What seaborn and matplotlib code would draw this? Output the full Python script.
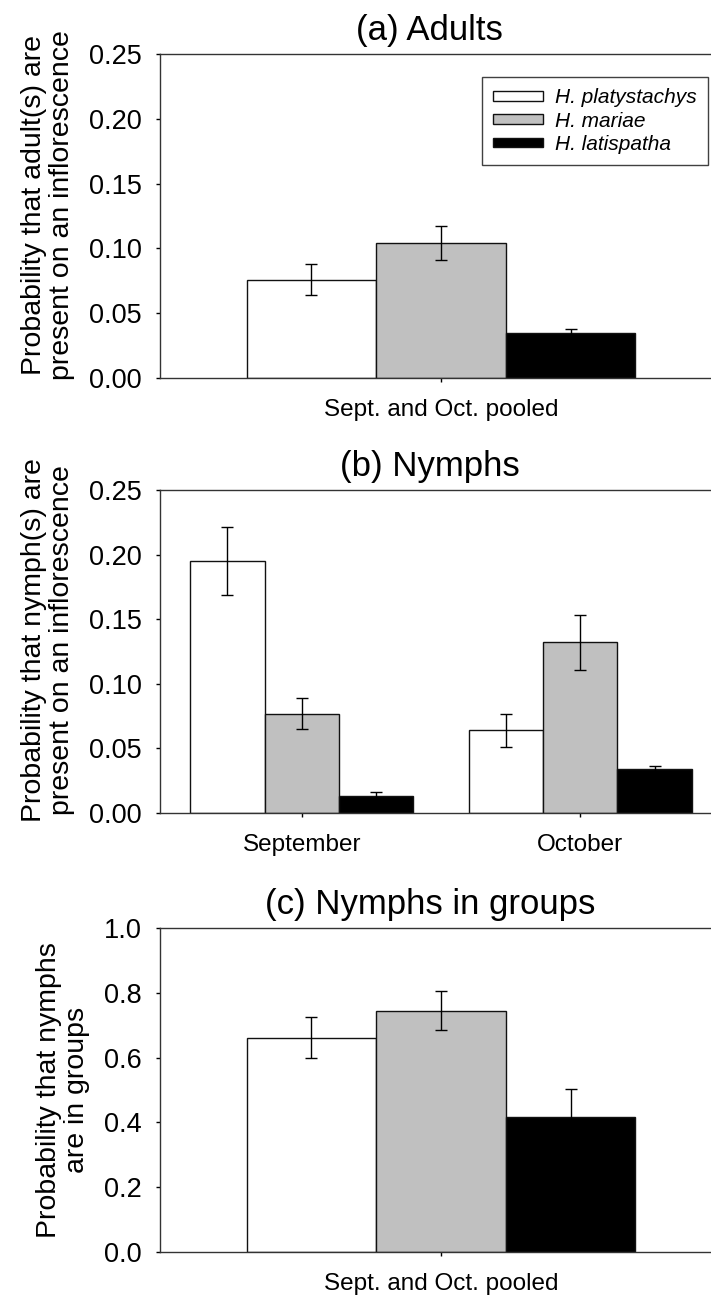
import pandas as pd
import seaborn as sns
import matplotlib.pyplot as plt
from matplotlib.ticker import FormatStrFormatter

species = ['H. platystachys', 'H. mariae', 'H. latispatha']
bar_colors = ['#ffffff', '#c0c0c0', '#000000']

pooled = ['Sept. and Oct. pooled']
months = ['September', 'October']

# (a) adults, Sept. and Oct. pooled (one value per species)
adult_mean = [[0.076], [0.104], [0.035]]
adult_se = [[0.012], [0.013], [0.0025]]

# (b) nymphs by month, one list per species: [September, October]
nymph_mean = [[0.195, 0.064], [0.077, 0.132], [0.013, 0.034]]
nymph_se = [[0.026, 0.013], [0.012, 0.021], [0.003, 0.002]]

# (c) nymphs in groups, pooled
group_mean = [[0.662], [0.745], [0.417]]
group_se = [[0.064], [0.061], [0.087]]

sns.set_style('ticks')
plt.rcParams['font.family'] = ['Liberation Sans', 'DejaVu Sans']
plt.rcParams['axes.edgecolor'] = '#333333'
plt.rcParams['axes.linewidth'] = 1.0
plt.rcParams['text.color'] = 'black'
plt.rcParams['axes.labelcolor'] = 'black'
plt.rcParams['xtick.color'] = 'black'
plt.rcParams['ytick.color'] = 'black'


def long_df(periods, means):
    rows = []
    for sp, vals in zip(species, means):
        for per, v in zip(periods, vals):
            rows.append({'species': sp, 'period': per, 'value': v})
    return pd.DataFrame(rows)


def draw_panel(ax, periods, means, ses, title, ylabel, yticks, fmt, half):
    df = long_df(periods, means)
    sns.barplot(data=df, x='period', y='value', hue='species', order=periods,
                hue_order=species, palette=bar_colors, saturation=1, width=0.8,
                edgecolor='#111111', linewidth=1, errorbar=None, legend=False, ax=ax)
    bars = list(ax.containers)
    for cont, m, s in zip(bars, means, ses):
        xs = [p.get_x() + p.get_width() / 2 for p in cont]
        ax.errorbar(xs, m, yerr=s, fmt='none', ecolor='#000000',
                    elinewidth=1, capsize=4, capthick=1)

    ax.set_xlim(-half, half + len(periods) - 1)
    ax.set_ylim(yticks[0], yticks[-1])
    ax.set_yticks(yticks)
    ax.yaxis.set_major_formatter(FormatStrFormatter(fmt))
    ax.set_xlabel('')
    ax.set_ylabel(ylabel, fontsize=20.5, labelpad=10, linespacing=1.1)
    ax.set_title(title, fontsize=25, pad=10, x=0.48)
    ax.tick_params(axis='y', direction='out', length=3, width=1, pad=10, labelsize=19.5)
    ax.tick_params(axis='x', direction='out', length=3, width=1, pad=12, labelsize=17.5)
    for sp in ax.spines.values():
        sp.set_visible(True)
    return bars


fig = plt.figure(figsize=(7.11, 12.99), dpi=100)
left, width = 160 / 711, 562 / 711
ax_a = fig.add_axes([left, 1 - 378 / 1299, width, 324 / 1299])
ax_b = fig.add_axes([left, 1 - 813 / 1299, width, 323 / 1299])
ax_c = fig.add_axes([left, 1 - 1252 / 1299, width, 324 / 1299])

ticks_small = [0.0, 0.05, 0.10, 0.15, 0.20, 0.25]
ticks_big = [0.0, 0.2, 0.4, 0.6, 0.8, 1.0]

bars_a = draw_panel(ax_a, pooled, adult_mean, adult_se, '(a) Adults',
                    'Probability that adult(s) are\npresent on an inflorescence',
                    ticks_small, '%.2f', 0.578)
draw_panel(ax_b, months, nymph_mean, nymph_se, '(b) Nymphs',
           'Probability that nymph(s) are\npresent on an inflorescence',
           ticks_small, '%.2f', 0.509)
draw_panel(ax_c, pooled, group_mean, group_se, '(c) Nymphs in groups',
           'Probability that nymphs\nare in groups',
           ticks_big, '%.1f', 0.578)

ax_a.yaxis.label.set_y(0.535)
ax_b.yaxis.label.set_y(0.535)

leg = ax_a.legend(bars_a, species, loc='upper right', bbox_to_anchor=(0.975, 0.929),
                  borderaxespad=0, fancybox=False, frameon=True, edgecolor='#111111',
                  prop={'style': 'italic', 'size': 15}, handlelength=2.4,
                  handleheight=0.33, handletextpad=0.55, labelspacing=0.2,
                  borderpad=0.55)
leg.get_frame().set_linewidth(1)

fig.savefig('out.png', dpi=100)
